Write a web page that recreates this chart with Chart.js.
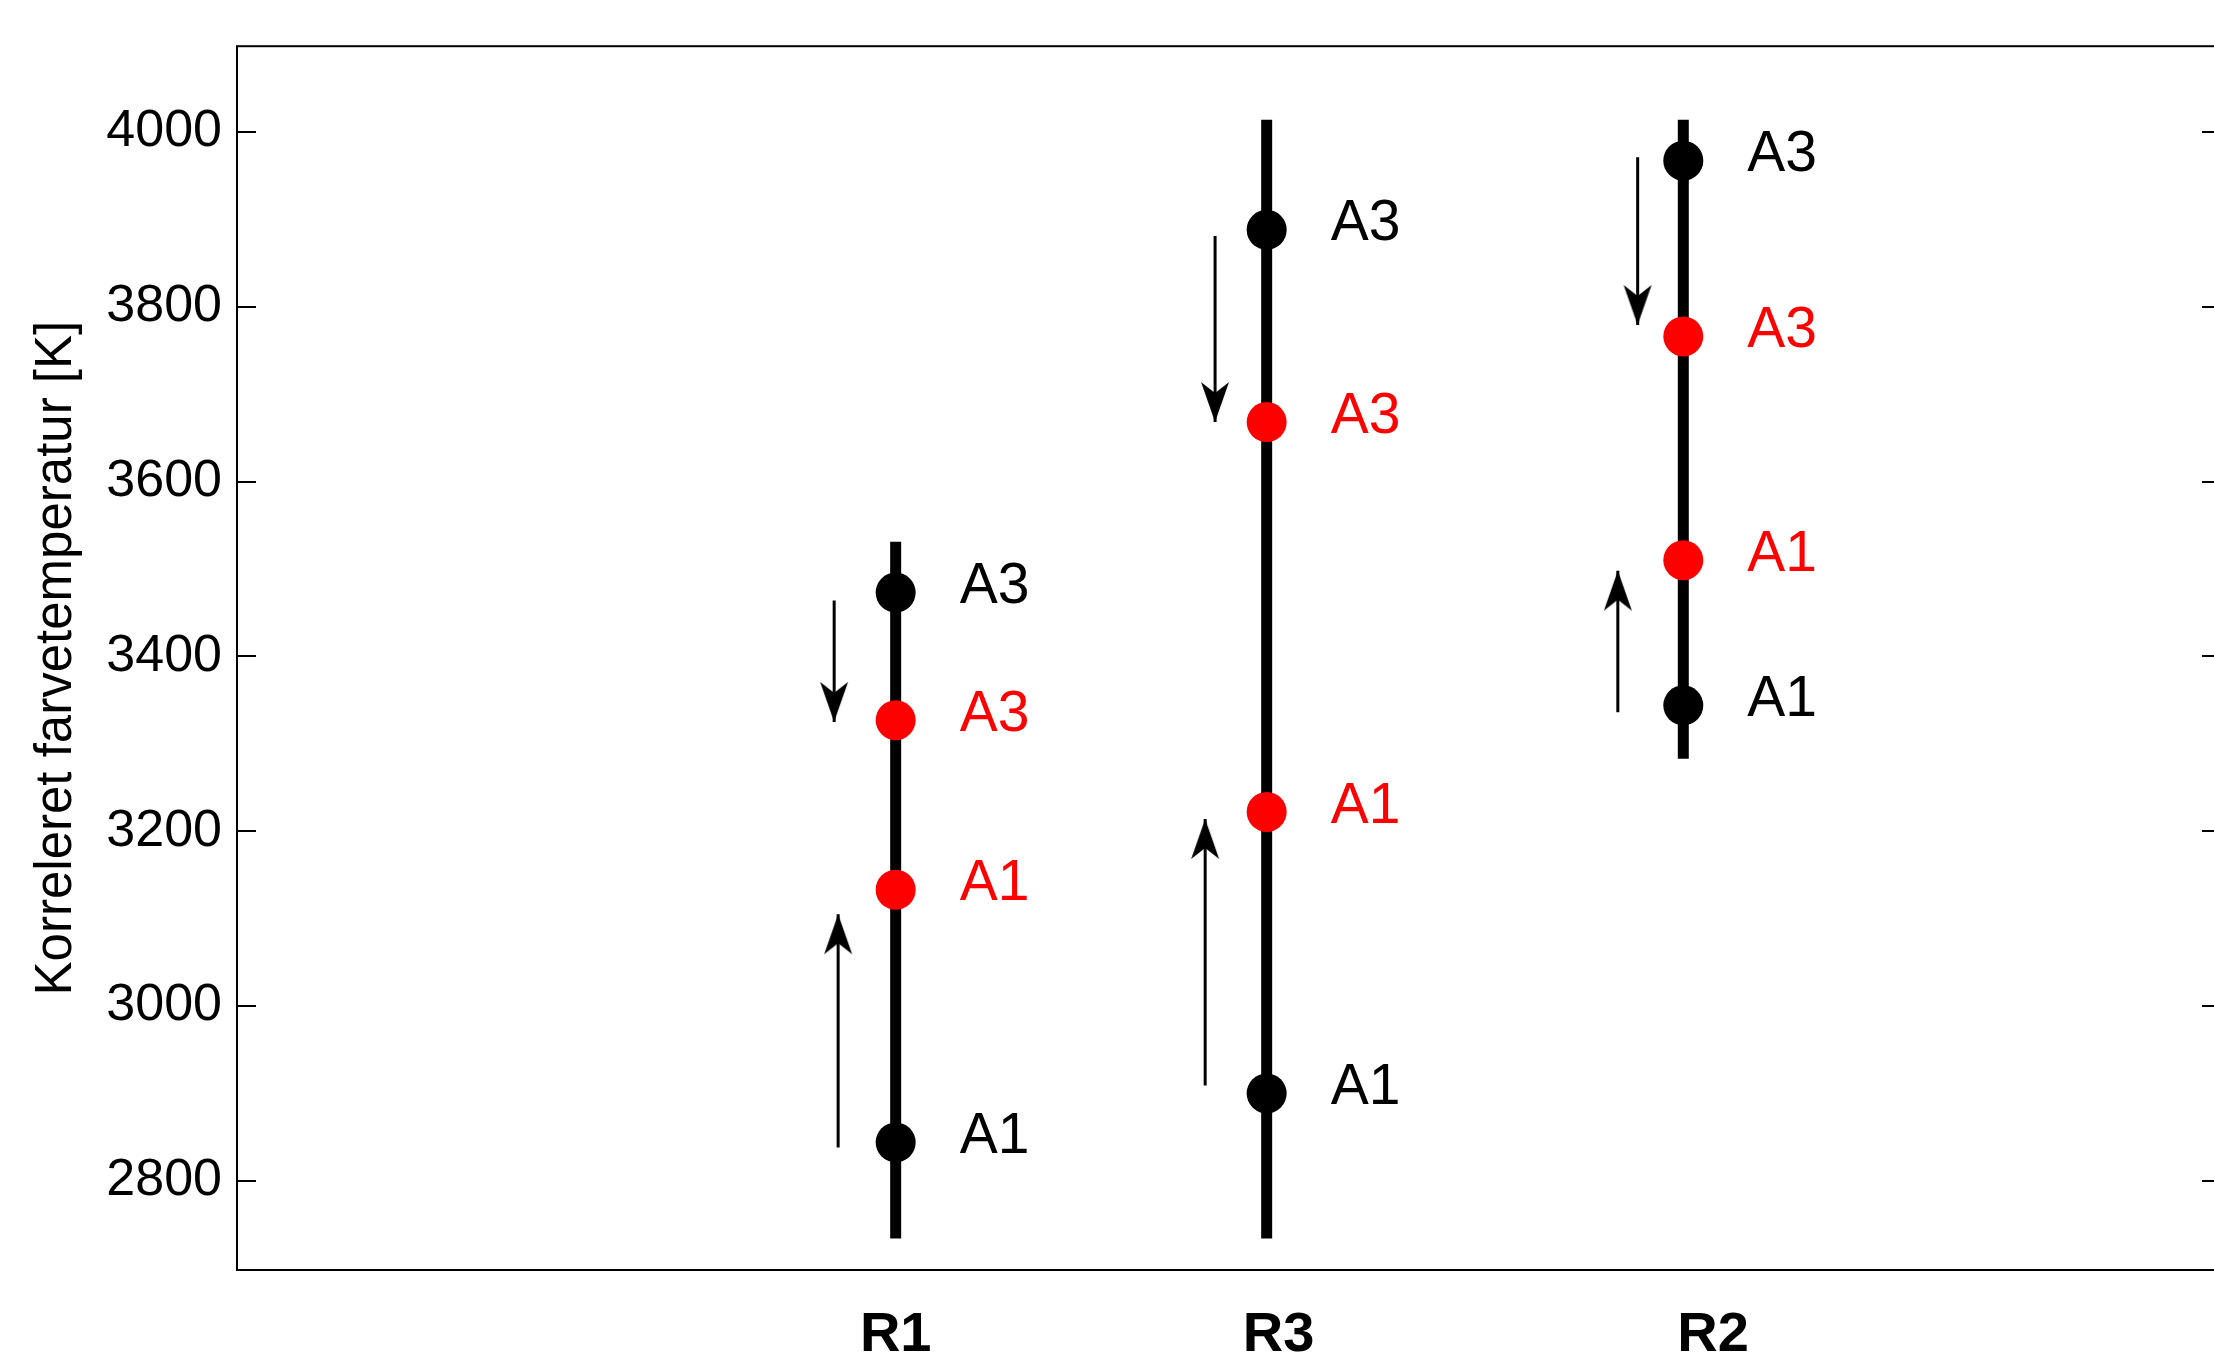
<!DOCTYPE html>
<html>
<head>
<meta charset="utf-8">
<script src="https://cdn.jsdelivr.net/npm/chart.js@4"></script>
<style>
  body { margin: 0; background: #fff; overflow: hidden; }
  #wrap { width: 2214px; height: 1362px; }
</style>
</head>
<body>
<div id="wrap"><canvas id="chart" width="2214" height="1362"></canvas></div>
<script>
// values
const groups = ['R1', 'R3', 'R2'];
const groupX = [33.2, 51.9, 72.9];
const labelX = [33.2, 52.5, 74.4];
const rangeLow = [2734, 2734, 3283];
const rangeHigh = [3531, 4014, 4014];
const blackA3 = [3473, 3888, 3967];
const redA3 = [3327, 3668, 3766];
const redA1 = [3133, 3222, 3510];
const blackA1 = [2844, 2900, 3344];
const downX = [30.1, 49.3, 70.6];
const downFrom = [3464, 3881, 3971];
const downTo = [3325, 3668, 3779];
const upX = [30.3, 48.8, 69.6];
const upFrom = [2838, 2909, 3336];
const upTo = [3105, 3214, 3498];
const yTicks = [2800, 3000, 3200, 3400, 3600, 3800, 4000];
const yMin = 2698, yMax = 4098;
// the picture is cut just before the right edge of the box (x = 100)
const xMin = 0, xVisible = 99.65, xBox = 100;

const FONT = '"Liberation Sans", Arial, sans-serif';

// arrow head image, tip sits at the centre of the canvas
function makeHead() {
    const c = document.createElement('canvas');
    c.width = 30;
    c.height = 84;
    const g = c.getContext('2d');
    g.fillStyle = '#000';
    g.beginPath();
    g.moveTo(15, 42);
    g.lineTo(29, 82);
    g.lineTo(15, 71);
    g.lineTo(1, 82);
    g.closePath();
    g.fill();
    return c;
}
const head = makeHead();

function arrow(x, from, to, rot) {
    return {
        data: [{ x: x, y: from }, { x: x, y: to }],
        showLine: true,
        borderColor: '#000',
        borderWidth: 3,
        pointRadius: [0, 1],
        pointStyle: ['circle', head],
        pointRotation: rot,
        order: 1
    };
}

const datasets = [];

// markers
datasets.push({
    data: groupX.map((x, i) => ({ x: x, y: blackA3[i] }))
        .concat(groupX.map((x, i) => ({ x: x, y: blackA1[i] }))),
    tags: groupX.map(() => 'A3').concat(groupX.map(() => 'A1')),
    backgroundColor: '#000',
    borderWidth: 0,
    pointRadius: 20,
    order: 0
});
datasets.push({
    data: groupX.map((x, i) => ({ x: x, y: redA3[i] }))
        .concat(groupX.map((x, i) => ({ x: x, y: redA1[i] }))),
    tags: groupX.map(() => 'A3').concat(groupX.map(() => 'A1')),
    backgroundColor: '#ff0000',
    borderWidth: 0,
    pointRadius: 20,
    order: 0
});

// thick vertical ranges
groupX.forEach((x, i) => {
    datasets.push({
        data: [{ x: x, y: rangeLow[i] }, { x: x, y: rangeHigh[i] }],
        showLine: true,
        borderColor: '#000',
        borderWidth: 11,
        pointRadius: 0,
        order: 2
    });
});

downX.forEach((x, i) => datasets.push(arrow(x, downFrom[i], downTo[i], 180)));
upX.forEach((x, i) => datasets.push(arrow(x, upFrom[i], upTo[i], 0)));

// box around the plot and inward ticks on both sides
const framePlugin = {
    id: 'frame',
    afterDraw(chart) {
        const ctx = chart.ctx;
        const a = chart.chartArea;
        const y = chart.scales.y;
        const right = chart.scales.x.getPixelForValue(xBox);
        ctx.save();
        ctx.strokeStyle = '#000';
        ctx.lineWidth = 2;
        ctx.strokeRect(a.left, a.top, right - a.left, a.bottom - a.top);
        y.ticks.forEach(t => {
            const py = Math.round(y.getPixelForValue(t.value));
            ctx.beginPath();
            ctx.moveTo(a.left, py);
            ctx.lineTo(a.left + 19, py);
            ctx.moveTo(right, py);
            ctx.lineTo(right - 19, py);
            ctx.stroke();
        });
        ctx.restore();
    }
};

// A1 / A3 text next to each marker
const tagPlugin = {
    id: 'tags',
    afterDatasetsDraw(chart) {
        const ctx = chart.ctx;
        ctx.save();
        ctx.font = '57px ' + FONT;
        ctx.textAlign = 'left';
        ctx.textBaseline = 'middle';
        chart.data.datasets.forEach((ds, di) => {
            if (!ds.tags) return;
            const meta = chart.getDatasetMeta(di);
            ctx.fillStyle = ds.backgroundColor;
            meta.data.forEach((pt, i) => {
                ctx.fillText(ds.tags[i], pt.x + 64, pt.y - 5);
            });
        });
        ctx.restore();
    }
};

new Chart(document.getElementById('chart'), {
    type: 'scatter',
    data: { datasets: datasets },
    options: {
        responsive: false,
        animation: false,
        layout: { autoPadding: false, padding: { top: 42, right: 0, left: 0, bottom: 0 } },
        plugins: {
            legend: { display: false },
            tooltip: { enabled: false }
        },
        scales: {
            x: {
                type: 'linear',
                min: xMin,
                max: xVisible,
                grid: { display: false, drawTicks: false },
                border: { display: false },
                afterBuildTicks: s => { s.ticks = labelX.map(v => ({ value: v })); },
                afterFit: s => { s.height = 92; },
                ticks: {
                    autoSkip: false,
                    maxRotation: 0,
                    padding: 32,
                    color: '#000',
                    font: { family: FONT, size: 56, weight: 'bold' },
                    callback: (v, i) => groups[i]
                }
            },
            y: {
                type: 'linear',
                min: yMin,
                max: yMax,
                grid: { display: false, drawTicks: false },
                border: { display: false },
                afterBuildTicks: s => { s.ticks = yTicks.map(v => ({ value: v })); },
                afterFit: s => { s.width = 237; },
                ticks: {
                    padding: 15,
                    color: '#000',
                    font: { family: FONT, size: 52 },
                    callback: v => String(v)
                },
                title: {
                    display: true,
                    text: 'Korreleret farvetemperatur [K]',
                    color: '#000',
                    font: { family: FONT, size: 51 },
                    padding: { top: 26, bottom: 0 }
                }
            }
        }
    },
    plugins: [framePlugin, tagPlugin]
});
</script>
</body>
</html>
